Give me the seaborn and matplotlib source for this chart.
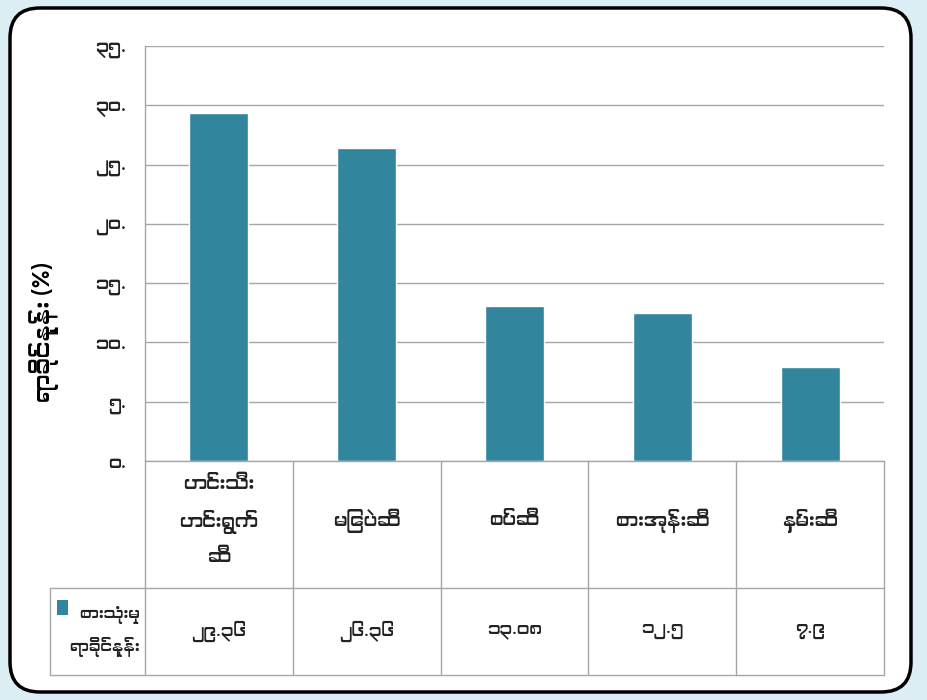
import matplotlib
matplotlib.use("Agg")
import matplotlib.pyplot as plt
import matplotlib.font_manager as fm
import matplotlib.transforms as mtransforms
from matplotlib.patches import FancyBboxPatch, Rectangle
import pandas as pd
import seaborn as sns

# Data
categories = ["ဟင်းသီး\nဟင်းရွက်\nဆီ", "မြေပဲဆီ", "စပ်ဆီ", "စားအုန်းဆီ", "နှမ်းဆီ"]
values = [29.36, 26.36, 13.08, 12.5, 7.9]
value_labels = ["၂၉.၃၆", "၂၆.၃၆", "၁၃.၀၈", "၁၂.၅", "၇.၉"]
series_name = "စားသုံးမှု\nရာခိုင်နှုန်း"
y_label = "ရာခိုင်နှုန်း (%)"
y_ticks = [0, 5, 10, 15, 20, 25, 30, 35]
y_tick_labels = ["၀.", "၅.", "၁၀.", "၁၅.", "၂၀.", "၂၅.", "၃၀.", "၃၅."]

bar_color = "#31859C"
grid_color = "#a6a6a6"
text_color = "#222222"

df = pd.DataFrame({"cat": categories, "val": values})

sns.set_theme(style="white")
# use a Myanmar font if one happens to be installed
names = sorted({f.name for f in fm.fontManager.ttflist})
mm = [n for n in names if "Myanmar" in n or "Padauk" in n]
plt.rcParams["font.family"] = mm + ["DejaVu Sans"]

fig = plt.figure(figsize=(9.27, 7.0), dpi=100)
fig.patch.set_facecolor("#dcedf4")

# rounded white frame, behind the axes
frame = FancyBboxPatch((0.10, 0.08), 9.01, 6.84,
                       boxstyle="round,pad=0,rounding_size=0.3",
                       transform=fig.dpi_scale_trans,
                       facecolor="white", edgecolor="black", linewidth=2.5,
                       zorder=-10)
fig.patches.append(frame)

W, H = 927, 700
ax = fig.add_axes([145 / W, 1 - 461 / H, (884 - 145) / W, (461 - 46) / H])
ax.set_zorder(5)
ax.set_facecolor("none")

sns.barplot(data=df, x="cat", y="val", color=bar_color, width=0.4,
            saturation=1, ax=ax)

ax.set_ylim(0, 35)
ax.set_xlim(-0.5, len(categories) - 0.5)
ax.set_yticks(y_ticks)
ax.set_yticklabels(y_tick_labels, fontsize=13, color=text_color)
ax.tick_params(axis="y", length=0, pad=14)
ax.set_xticks([])
ax.set_xlabel("")
ax.set_ylabel(y_label, fontsize=16.5, fontweight="bold", color="black")
ax.yaxis.set_label_coords(-0.116, 0.31)
ax.yaxis.grid(True, color=grid_color, linewidth=1)
ax.set_axisbelow(True)
for s in ["top", "right", "bottom"]:
    ax.spines[s].set_visible(False)
ax.spines["left"].set_color(grid_color)
ax.spines["left"].set_linewidth(1)

# data table under the plot
blend = mtransforms.blended_transform_factory(ax.transData, ax.transAxes)
n = len(categories)
unit = (884 - 145) / n
row1 = -(588 - 461) / 415
row2 = -(675 - 461) / 415
leg_left = -0.5 - (145 - 50) / unit
lk = dict(color=grid_color, linewidth=1, transform=blend, clip_on=False)

ax.plot([-0.5, n - 0.5], [0, 0], **lk)
ax.plot([leg_left, n - 0.5], [row1, row1], **lk)
ax.plot([leg_left, n - 0.5], [row2, row2], **lk)
for i in range(n + 1):
    ax.plot([i - 0.5, i - 0.5], [0, row2], **lk)
ax.plot([leg_left, leg_left], [row1, row2], **lk)

for i, (c, v) in enumerate(zip(categories, value_labels)):
    ax.text(i, row1 / 2 + 0.01, c, transform=blend, ha="center",
            va="center", fontsize=13.5, color=text_color, linespacing=2.0)
    ax.text(i, (row1 + row2) / 2, v, transform=blend, ha="center",
            va="center", fontsize=12.5, color=text_color)

# legend key in the table
key_w = 11 / unit
ax.add_patch(Rectangle((leg_left + 7 / unit, -(615 - 461) / 415),
                       key_w, 15 / 415, facecolor=bar_color, edgecolor="none",
                       transform=blend, clip_on=False))
ax.text(-0.5 - 5 / unit, (row1 + row2) / 2, series_name, transform=blend,
        ha="right", va="center", fontsize=11.5, color=text_color,
        linespacing=1.9)

fig.savefig("out.png", dpi=100, facecolor=fig.get_facecolor())
